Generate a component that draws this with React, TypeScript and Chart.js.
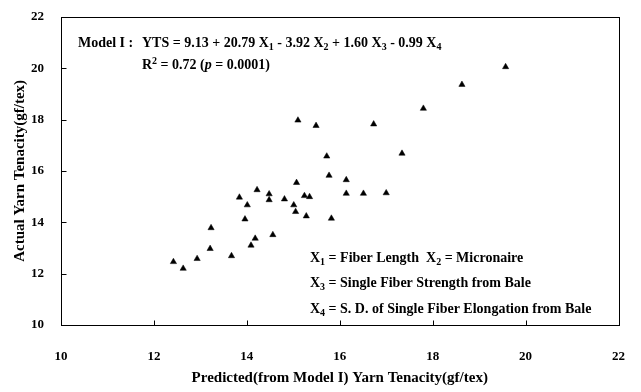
import React, { useEffect, useRef } from 'react';
import { Chart, registerables } from 'chart.js';

Chart.register(...registerables);

// Predicted (from Model I) yarn tenacity, gf/tex
const predicted = [
  12.42, 12.63, 12.93, 13.21, 13.23, 13.67, 13.84, 13.96, 14.01, 14.09,
  14.18, 14.22, 14.48, 14.48, 14.56, 14.81, 15.01, 15.05, 15.07, 15.10,
  15.24, 15.28, 15.35, 15.49, 15.72, 15.77, 15.82, 16.14, 16.14, 16.51,
  16.73, 17.0, 17.34, 17.80, 18.63, 19.57,
];
// Actual yarn tenacity, gf/tex
const actual = [
  12.46, 12.20, 12.58, 12.97, 13.78, 12.69, 14.97, 14.12, 14.67, 13.10,
  13.37, 15.26, 15.10, 14.87, 13.51, 14.90, 14.67, 14.41, 15.54, 17.97,
  15.03, 14.24, 14.99, 17.76, 16.57, 15.82, 14.15, 15.65, 15.12, 15.12,
  17.82, 15.14, 16.68, 18.43, 19.36, 20.05,
];

const axisMin = 10;
const axisMax = 22;
const axisStep = 2;

const xTitle = 'Predicted(from Model I) Yarn Tenacity(gf/tex)';
const yTitle = 'Actual Yarn Tenacity(gf/tex)';

type Run = { t: string; sub?: boolean; sup?: boolean; i?: boolean };

const modelLabel: Run[] = [{ t: 'Model I :' }];
const equation: Run[] = [
  { t: 'YTS = 9.13 + 20.79 X' }, { t: '1', sub: true },
  { t: ' - 3.92 X' }, { t: '2', sub: true },
  { t: ' + 1.60 X' }, { t: '3', sub: true },
  { t: ' - 0.99 X' }, { t: '4', sub: true },
];
const rSquared: Run[] = [
  { t: 'R' }, { t: '2', sup: true }, { t: ' = 0.72 (' }, { t: 'p', i: true }, { t: ' = 0.0001)' },
];
const legend1: Run[] = [
  { t: 'X' }, { t: '1', sub: true }, { t: ' = Fiber Length  X' }, { t: '2', sub: true }, { t: ' = Micronaire' },
];
const legend2: Run[] = [
  { t: 'X' }, { t: '3', sub: true }, { t: ' = Single Fiber Strength from Bale' },
];
const legend3: Run[] = [
  { t: 'X' }, { t: '4', sub: true }, { t: ' = S. D. of Single Fiber Elongation from Bale' },
];

const FONT = '"Liberation Serif", "Times New Roman", serif';

function drawRuns(ctx: CanvasRenderingContext2D, runs: Run[], x: number, y: number, size: number) {
  let cx = x;
  ctx.textBaseline = 'alphabetic';
  ctx.textAlign = 'left';
  for (const r of runs) {
    const s = r.sub || r.sup ? Math.round(size * 0.68) : size;
    ctx.font = `${r.i ? 'italic ' : ''}bold ${s}px ${FONT}`;
    const dy = r.sub ? size * 0.22 : r.sup ? -size * 0.33 : 0;
    ctx.fillText(r.t, cx, y + dy);
    cx += ctx.measureText(r.t).width;
  }
}

const overlayPlugin = {
  id: 'overlay',
  afterDraw(chart: any) {
    const { ctx, chartArea: ca, scales } = chart;
    const xs = scales.x;
    const ys = scales.y;
    ctx.save();
    ctx.strokeStyle = '#000';
    ctx.lineWidth = 1;
    const l = Math.round(ca.left) + 0.5;
    const t = Math.round(ca.top) + 0.5;
    const r = Math.round(ca.right) + 0.5;
    const b = Math.round(ca.bottom) + 0.5;
    ctx.strokeRect(l, t, r - l, b - t);
    // inward tick marks
    ctx.beginPath();
    for (const tk of xs.ticks) {
      if (tk.value <= axisMin || tk.value >= axisMax) continue;
      const px = Math.round(xs.getPixelForValue(tk.value)) + 0.5;
      ctx.moveTo(px, b);
      ctx.lineTo(px, b - 5);
    }
    for (const tk of ys.ticks) {
      if (tk.value <= axisMin || tk.value >= axisMax) continue;
      const py = Math.round(ys.getPixelForValue(tk.value)) + 0.5;
      ctx.moveTo(l, py);
      ctx.lineTo(l + 5, py);
    }
    ctx.stroke();

    ctx.fillStyle = '#000';
    drawRuns(ctx, modelLabel, 78, 47, 14);
    drawRuns(ctx, equation, 142, 47, 14);
    drawRuns(ctx, rSquared, 142, 69, 14);
    drawRuns(ctx, legend1, 310, 262, 14);
    drawRuns(ctx, legend2, 310, 287, 14);
    drawRuns(ctx, legend3, 310, 313, 14);
    ctx.restore();
  },
};

export default function App() {
  const canvasRef = useRef<HTMLCanvasElement | null>(null);

  useEffect(() => {
    document.body.style.margin = '0';
    const canvas = canvasRef.current;
    if (!canvas) return;
    const points = predicted.map((p, i) => ({ x: p, y: actual[i] }));
    const tickFont = { family: FONT, size: 13, weight: 700 };
    const titleFont = { family: FONT, size: 15, weight: 700 };
    const chart = new Chart(canvas, {
      type: 'scatter',
      data: {
        datasets: [
          {
            data: points,
            pointStyle: 'triangle',
            pointRadius: 3.6,
            backgroundColor: '#000',
            borderColor: '#000',
            borderWidth: 0.5,
          },
        ],
      },
      options: {
        animation: false,
        responsive: false,
        devicePixelRatio: 1,
        layout: { padding: { top: 13, right: 20, left: 0, bottom: 0 } },
        plugins: { legend: { display: false }, tooltip: { enabled: false } },
        scales: {
          x: {
            type: 'linear',
            min: axisMin,
            max: axisMax,
            grid: { display: false },
            border: { display: false },
            ticks: { stepSize: axisStep, font: tickFont, color: '#000', padding: 16, maxRotation: 0 },
            title: { display: true, text: xTitle, font: titleFont, color: '#000', padding: { top: 0, bottom: 5 } },
            afterFit: (s: any) => { s.height = 67; },
          },
          y: {
            type: 'linear',
            min: axisMin,
            max: axisMax,
            grid: { display: false },
            border: { display: false },
            ticks: { stepSize: axisStep, font: tickFont, color: '#000', padding: 9 },
            title: { display: true, text: yTitle, font: titleFont, color: '#000', padding: { top: 11, bottom: 0 } },
            afterFit: (s: any) => { s.width = 61; },
          },
        },
      },
      plugins: [overlayPlugin],
    } as any);
    return () => chart.destroy();
  }, []);

  return (
    <div style={{ width: 641, height: 392, background: '#fff' }}>
      <canvas ref={canvasRef} width={641} height={392} style={{ display: 'block' }} />
    </div>
  );
}
